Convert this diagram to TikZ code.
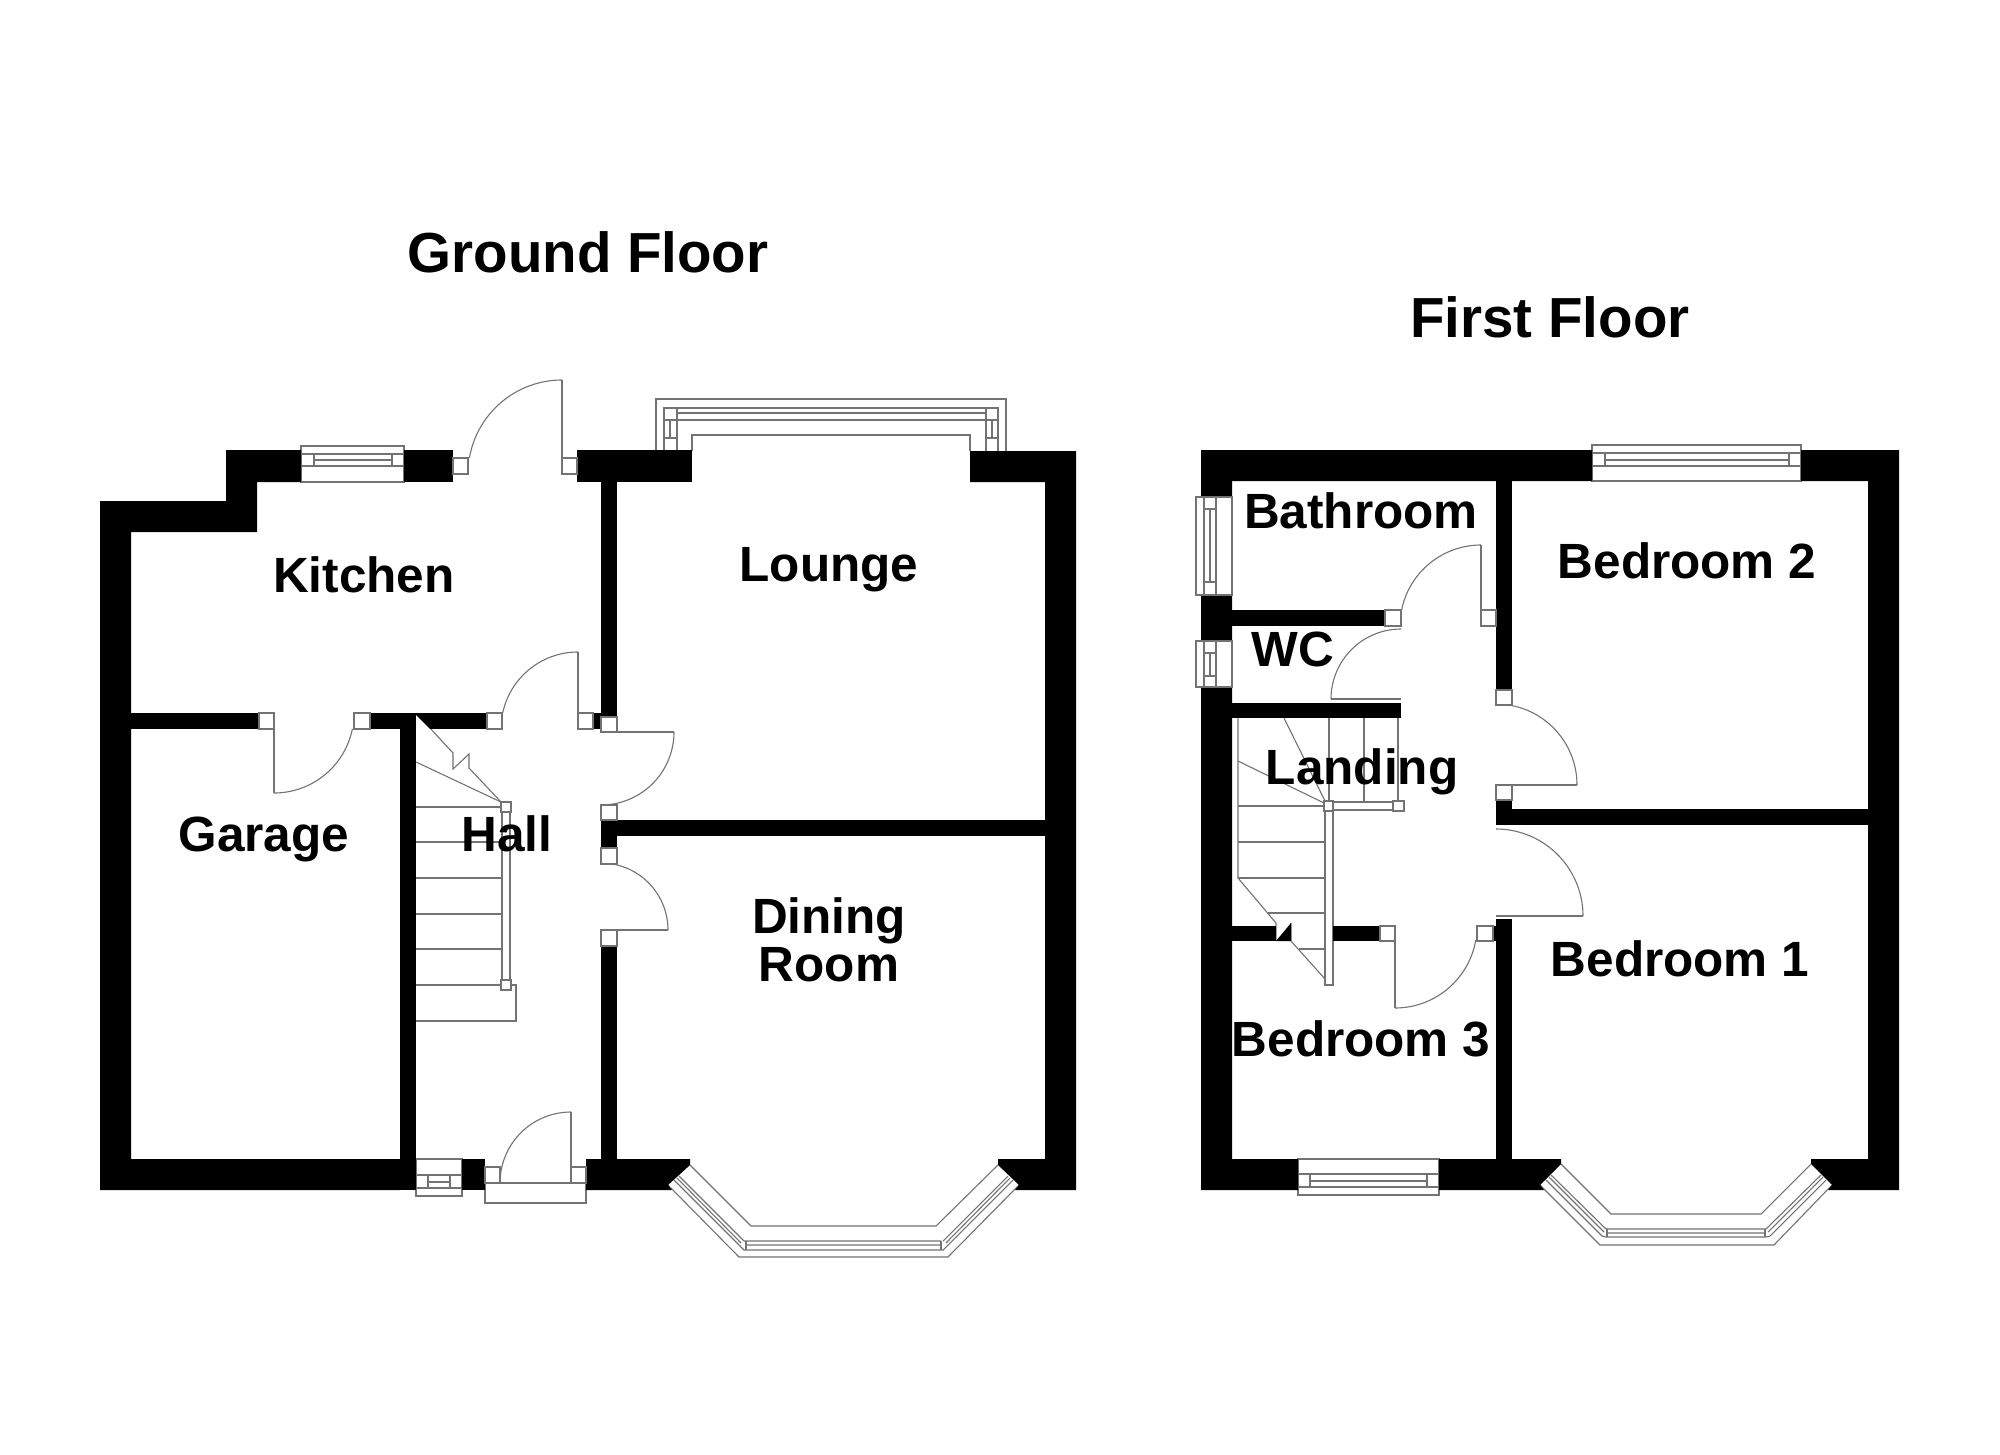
\documentclass[tikz,border=0pt]{standalone}
\usepackage{fontspec}
\setmainfont{Liberation Sans}
\tikzset{
  ln/.style={draw=black!55,line width=1.1pt},
  wall/.style={fill=black,draw=none},
  room/.style={anchor=base,inner sep=0pt,font=\fontsize{49.5}{50}\selectfont\bfseries,text=black},
  title/.style={anchor=base,inner sep=0pt,font=\fontsize{56.5}{57}\selectfont\bfseries,text=black},
}
% door swing: centre x, centre y, radius, from angle, to angle (y axis points down)
\newcommand{\swing}[5]{\draw[ln] plot[domain=#4:#5,samples=40] ({#1+#3*cos(\x)},{#2+#3*sin(\x)});}
\newcommand{\jamb}[4]{\draw[ln,fill=white] (#1,#2) rectangle (#3,#4);}
\begin{document}
\begin{tikzpicture}[x=1pt,y=-1pt]
\useasboundingbox (0,0) rectangle (2000,1454);
\fill[white] (0,0) rectangle (2000,1454);

%% ---------- GROUND FLOOR ----------
% kitchen window
\draw[ln,fill=white] (301,482) -- (301,446) -- (404,446) -- (404,482) -- cycle;
\draw[ln] (301,454) -- (404,454) (301,466) -- (404,466) (314,454) -- (314,466) (392,454) -- (392,466) (314,460) -- (392,460);
% lounge window
\draw[ln] (656,451) -- (656,399) -- (1006,399) -- (1006,451);
\draw[ln] (664,451) -- (664,408) -- (998,408) -- (998,451);
\draw[ln] (677,451) -- (677,408) (986,451) -- (986,408);
\draw[ln] (677,413) -- (986,413) (677,420) -- (986,420);
\draw[ln] (664,420) -- (677,420) (664,438) -- (677,438) (670,420) -- (670,438);
\draw[ln] (986,420) -- (998,420) (986,438) -- (998,438) (992,420) -- (992,438);
\draw[ln] (692,451) -- (692,435) -- (970,435) -- (970,451);
% hall side window
\draw[ln,fill=white] (416,1159) rectangle (462,1196);
\draw[ln] (416,1175) -- (462,1175) (416,1188) -- (462,1188) (428,1175) -- (428,1188) (450,1175) -- (450,1188) (428,1182) -- (450,1182);
% front door threshold
\draw[ln,fill=white] (485,1183) rectangle (586,1203);
% dining bay
\draw[ln] (690,1165) -- (751,1226) -- (936,1226) -- (998,1165);
\draw[ln] (668,1185) -- (739,1257) -- (948,1257) -- (1019,1185);
\draw[ln] (674,1180) -- (739,1245) (677,1178) -- (741,1243) (679,1176) -- (744,1241);
\draw[ln] (1013,1180) -- (948,1245) (1010,1178) -- (946,1243) (1008,1176) -- (943,1241);
\draw[ln] (744,1241) -- (941,1241) (746,1245) -- (941,1245) (739,1245) -- (744,1250) -- (943,1250) -- (948,1245);
\draw[ln] (746,1241) -- (746,1250) (941,1241) -- (941,1250);

% stairs
\foreach \yy in {807,842,878,914,949,985}{\draw[ln] (416,\yy) -- (502,\yy);}
\draw[ln] (416,985) -- (516,985) -- (516,1021) -- (416,1021);
\draw[ln] (502,812) rectangle (510,980);
\draw[ln] (416,762) -- (501,802);
\draw[ln] (416,713) -- (453,753) -- (453,769) -- (469,754) -- (469,768) -- (501,802);
\draw[ln,fill=white] (501,802) rectangle (511,812);
\draw[ln,fill=white] (501,980) rectangle (511,990);

% ground walls
\fill[wall] (100,501) -- (226,501) -- (226,450) -- (301,450) -- (301,482) -- (257,482) -- (257,532) -- (131,532) -- (131,1159) -- (400,1159) -- (400,1190) -- (100,1190) -- cycle;
\fill[wall] (404,450) rectangle (453,482);
\fill[wall] (577,450) rectangle (692,482);
\fill[wall] (601,482) rectangle (617,717);
\fill[wall] (131,713) rectangle (259,729);
\fill[wall] (370,713) rectangle (487,729);
\fill[wall] (593,713) rectangle (601,729);
\fill[wall] (400,713) rectangle (416,1190);
\fill[white] (416,715) -- (432,731) -- (416,731) -- cycle;
\fill[wall] (462,1159) rectangle (485,1190);
\fill[wall] (586,1159) -- (690,1159) -- (690,1165) -- (668,1185) -- (672,1190) -- (586,1190) -- cycle;
\fill[wall] (998,1159) -- (1045,1159) -- (1045,482) -- (970,482) -- (970,451) -- (1076,451) -- (1076,1190) -- (1015,1190) -- (1019,1185) -- (998,1165) -- cycle;
\fill[wall] (601,820) rectangle (617,848);
\fill[wall] (601,820) rectangle (1045,836);
\fill[wall] (601,946) rectangle (617,1190);

% ground doors
\swing{562}{474}{94}{190}{270}
\draw[ln] (562,380) -- (562,458);
\jamb{453}{458}{468}{474}
\jamb{562}{458}{577}{474}
\swing{578}{729}{77}{192}{270}
\draw[ln] (578,652) -- (578,713);
\jamb{487}{713}{502}{729}
\jamb{578}{713}{593}{729}
\swing{274}{713}{80}{11.5}{90}
\draw[ln] (274,729) -- (274,793);
\jamb{259}{713}{274}{729}
\jamb{354}{713}{370}{729}
\swing{601}{732}{73}{0}{90}
\draw[ln] (617,732) -- (674,732);
\jamb{601}{717}{617}{732}
\jamb{601}{805}{617}{820}
\swing{601}{930}{67}{-90}{0}
\draw[ln] (617,930) -- (668,930);
\jamb{601}{848}{617}{864}
\jamb{601}{930}{617}{946}
\swing{571}{1183}{71}{180}{270}
\draw[ln] (571,1112) -- (571,1167);
\jamb{485}{1167}{500}{1183}
\jamb{571}{1167}{586}{1183}

%% ---------- FIRST FLOOR ----------
% bedroom 2 window
\draw[ln,fill=white] (1592,445) rectangle (1801,481);
\draw[ln] (1592,453) -- (1801,453) (1592,466) -- (1801,466) (1605,453) -- (1605,466) (1789,453) -- (1789,466) (1605,460) -- (1789,460);
% bedroom 3 window
\draw[ln,fill=white] (1298,1159) rectangle (1439,1195);
\draw[ln] (1298,1174) -- (1439,1174) (1298,1187) -- (1439,1187) (1310,1174) -- (1310,1187) (1427,1174) -- (1427,1187) (1310,1181) -- (1427,1181);
% bedroom 1 bay
\draw[ln] (1561,1164) -- (1611,1214) -- (1761,1214) -- (1811,1164);
\draw[ln] (1540,1185) -- (1600,1245) -- (1774,1245) -- (1832,1185);
\draw[ln] (1546,1180) -- (1602,1236) (1549,1177) -- (1604,1232) (1551,1175) -- (1606,1229);
\draw[ln] (1826,1180) -- (1770,1236) (1823,1177) -- (1768,1232) (1821,1175) -- (1766,1229);
\draw[ln] (1606,1229) -- (1766,1229) (1607,1233) -- (1765,1233) (1602,1236) -- (1606,1237) -- (1766,1237) -- (1770,1236);
\draw[ln] (1607,1229) -- (1607,1237) (1765,1229) -- (1765,1237);

% first floor stairs
\draw[ln] (1238,718) -- (1238,878) -- (1276,923) -- (1276,941);
\draw[ln] (1291,923) -- (1291,941) -- (1325,979);
\foreach \yy in {806,842,878}{\draw[ln] (1238,\yy) -- (1325,\yy);}
\draw[ln] (1268,913) -- (1325,913) (1299,949) -- (1325,949);
\draw[ln] (1329,718) -- (1329,801) (1364,718) -- (1364,802) (1398,718) -- (1398,801);
\draw[ln] (1283,716) -- (1325,801) (1238,761) -- (1324,803);
\draw[ln,fill=white] (1325,808) rectangle (1333,985);
\draw[ln,fill=white] (1333,802) rectangle (1393,810);
\draw[ln,fill=white] (1324,801) rectangle (1333,811);
\draw[ln,fill=white] (1393,801) rectangle (1404,811);

% first floor walls
\fill[wall] (1201,450) -- (1592,450) -- (1592,481) -- (1232,481) -- (1232,1159) -- (1298,1159) -- (1298,1190) -- (1201,1190) -- cycle;
\fill[wall] (1801,450) -- (1899,450) -- (1899,1190) -- (1828,1190) -- (1832,1185) -- (1811,1164) -- (1811,1159) -- (1868,1159) -- (1868,481) -- (1801,481) -- cycle;
\fill[wall] (1439,1159) -- (1561,1159) -- (1561,1164) -- (1540,1185) -- (1544,1190) -- (1439,1190) -- cycle;
\fill[wall] (1496,481) rectangle (1512,690);
\fill[wall] (1496,800) rectangle (1512,825);
\fill[wall] (1496,809) rectangle (1868,825);
\fill[wall] (1496,919) rectangle (1512,1159);
\fill[wall] (1493,926) rectangle (1496,941);
\fill[wall] (1232,610) rectangle (1385,626);
\fill[wall] (1232,703) rectangle (1401,718);
\fill[wall] (1232,926) rectangle (1276,941);
\fill[wall] (1276,941) -- (1291,923) -- (1291,941) -- cycle;
\fill[wall] (1333,926) rectangle (1380,941);

% bathroom window, cut through the wall
\draw[ln,fill=white] (1196,497) rectangle (1232,595);
\draw[ln] (1204,497) -- (1204,595) (1216,497) -- (1216,595) (1204,509) -- (1216,509) (1204,582) -- (1216,582) (1210,509) -- (1210,582);
% wc window, cut through the wall
\draw[ln,fill=white] (1196,641) rectangle (1232,687);
\draw[ln] (1204,641) -- (1204,687) (1216,641) -- (1216,687) (1204,653) -- (1216,653) (1204,676) -- (1216,676) (1210,653) -- (1210,676);

% first floor doors
\swing{1481}{626}{81}{191}{270}
\draw[ln] (1481,545) -- (1481,610);
\jamb{1385}{610}{1401}{626}
\jamb{1481}{610}{1496}{626}
\swing{1401}{699}{70}{180}{270}
\draw[ln] (1331,699) -- (1401,699);
\swing{1496}{785}{81}{-90}{0}
\draw[ln] (1512,785) -- (1577,785);
\jamb{1496}{690}{1512}{705}
\jamb{1496}{785}{1512}{800}
\swing{1496}{916}{87}{-90}{0}
\draw[ln] (1496,916) -- (1583,916);
\swing{1395}{926}{82}{10}{90}
\draw[ln] (1395,941) -- (1395,1008);
\jamb{1380}{926}{1395}{941}
\jamb{1477}{926}{1493}{941}

%% ---------- LABELS ----------
\node[title] (ground) at (588,272) {Ground Floor};
\node[title] (first) at (1550,337) {First Floor};
\node[room] (kitchen) at (364,592) {Kitchen};
\node[room] (lounge) at (829,581) {Lounge};
\node[room] (garage) at (264,851) {Garage};
\node[room] (hall) at (507,851) {Hall};
\node[room] (dining) at (829,933) {Dining};
\node[room] (diningb) at (829,981) {Room};
\node[room] (bathroom) at (1361,528) {Bathroom};
\node[room] (wc) at (1293,666) {WC};
\node[room] (landing) at (1362,784) {Landing};
\node[room] (bedtwo) at (1687,578) {Bedroom 2};
\node[room] (bedone) at (1680,976) {Bedroom 1};
\node[room] (bedthree) at (1361,1056) {Bedroom 3};
\end{tikzpicture}
\end{document}
